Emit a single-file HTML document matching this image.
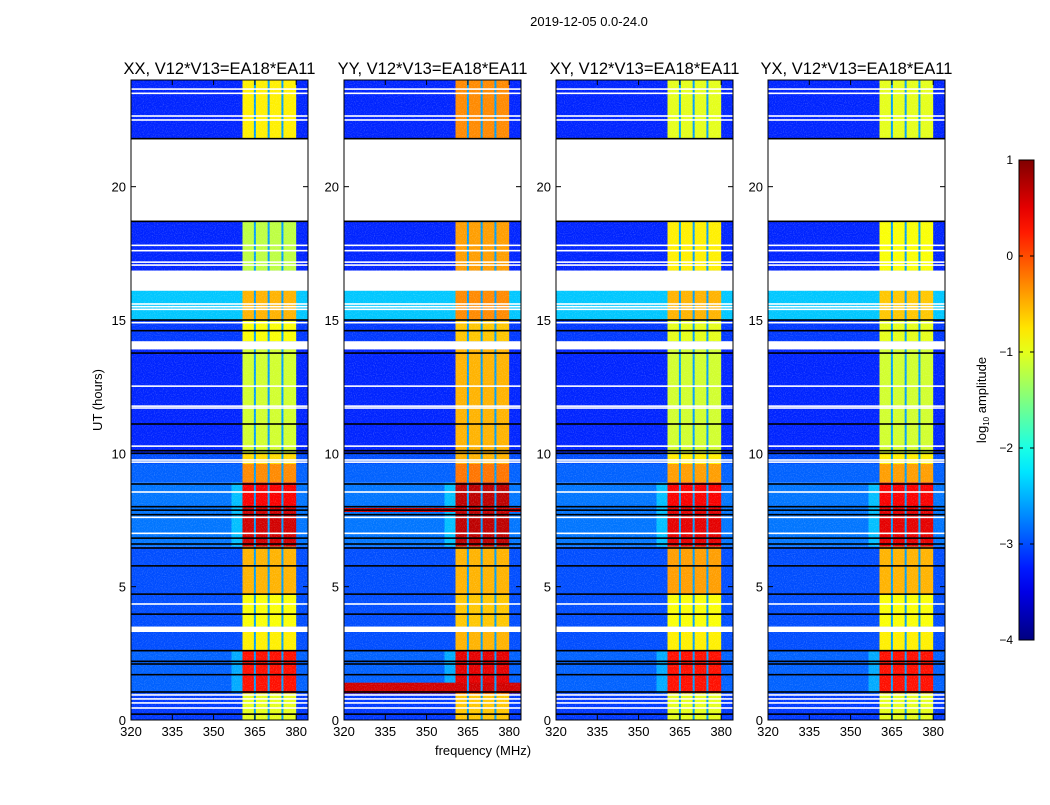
<!DOCTYPE html>
<html><head><meta charset="utf-8">
<style>
body{margin:0;background:#fff;}
svg text{font-family:"Liberation Sans",sans-serif;fill:#000;}
</style></head>
<body>
<svg id="fig" width="1050" height="800" viewBox="0 0 1050 800" xmlns="http://www.w3.org/2000/svg">
<defs>
<filter id="noise" x="0" y="0" width="100%" height="100%">
<feTurbulence type="fractalNoise" baseFrequency="0.9" numOctaves="1" seed="3"/>
<feColorMatrix type="matrix" values="0 0 0 0 1  0 0 0 0 1  0 0 0 0 1  0 0 0 1.6 -0.75"/>
</filter>
<linearGradient id="cbgrad" x1="0" y1="1" x2="0" y2="0"></linearGradient>
</defs>
<text x="589" y="26" font-size="13" text-anchor="middle">2019-12-05 0.0-24.0</text>
<g id="panels"></g>
<text x="483" y="755" font-size="13" text-anchor="middle">frequency (MHz)</text>
<text transform="translate(102,400) rotate(-90)" font-size="13" text-anchor="middle">UT (hours)</text>
<g id="colorbar"></g>
<text transform="translate(986,400) rotate(-90)" font-size="13" text-anchor="middle">log<tspan font-size="8" dy="3">10</tspan><tspan dy="-3"> amplitude</tspan></text>
</svg>
<script>
// ---- data ----
const panelTitles = ["XX, V12*V13=EA18*EA11","YY, V12*V13=EA18*EA11","XY, V12*V13=EA18*EA11","YX, V12*V13=EA18*EA11"];
const segStart = [21.8, 16.85, 15.0, 14.2, 10.0, 9.6, 8.9, 8.0, 6.5, 4.7, 3.5, 2.6, 1.0, 0.0];
const segEnd   = [24.0, 18.7, 16.1, 15.0, 13.9, 10.0, 9.6, 8.9, 8.0, 6.5, 4.7, 3.3, 2.6, 1.0];
const segBg    = [-3.2, -3.2, -2.4, -3.1, -3.2, -3.0, -2.9, -2.8, -2.8, -3.0, -3.0, -3.0, -2.9, -3.1];
const bandXX = [-0.8, -1.2, -0.5, -0.9, -1.1, -0.7, -0.3, 0.4, 0.6, -0.5, -0.9, -0.8, 0.3, -1.0];
const bandYY = [-0.3, -0.4, -0.3, -0.6, -0.5, -0.5, -0.2, 0.7, 0.7, -0.5, -0.6, -0.5, 0.5, -0.6];
const bandXY = [-1.0, -0.8, -0.5, -1.0, -1.1, -0.8, -0.4, 0.4, 0.5, -0.4, -0.9, -0.8, 0.3, -1.0];
const bandYX = [-1.0, -0.9, -0.6, -1.0, -1.1, -0.8, -0.4, 0.4, 0.5, -0.5, -0.9, -0.8, 0.3, -1.0];
const bandLevels = [bandXX, bandYY, bandXY, bandYX];
const bandStartMHz = 360.5, bandEndMHz = 380.0;
const bandSeparatorsMHz = [365, 370, 375];
const whiteLines = [23.66, 23.5, 22.65, 22.5, 17.8, 17.6, 17.17, 17.06, 15.6, 15.5, 15.4, 14.9, 12.52, 11.77, 11.7, 10.27, 9.75, 9.67, 8.55, 7.6, 7.0, 4.35, 0.94, 0.79, 0.64, 0.45];
const blackLines = [21.8, 18.7, 15.0, 14.6, 13.76, 11.1, 10.1, 10.0, 8.85, 8.0, 7.87, 7.7, 6.82, 6.6, 6.45, 5.78, 4.72, 3.97, 2.6, 2.2, 2.1, 1.7, 1.05, 0.22];
const gapStart = [18.7, 16.1, 13.9, 3.3];
const gapEnd = [21.8, 16.85, 14.2, 3.5];
const yyRedRowsStart = [7.8, 1.0];
const yyRedRowsEnd = [7.95, 1.4];
const xTicks = [320, 335, 350, 365, 380];
const yTicks = [0, 5, 10, 15, 20];
const cbTicks = [1, 0, -1, -2, -3, -4];

// ---- layout ----
const NS = "http://www.w3.org/2000/svg";
const panelLeft = [131, 344, 556, 768];
const PW = 177, PT = 80, PB = 720;
const fMin = 320, fMax = 320 + PW / 2.753;
const hMin = 0, hMax = 24;
function xs(f, i){ return panelLeft[i] + (f - fMin) / (fMax - fMin) * PW; }
function ys(h){ return PB - (h - hMin) / (hMax - hMin) * (PB - PT); }
function jet(v){
  let t = Math.max(0, Math.min(1, (v + 4) / 5));
  const r = Math.max(0, Math.min(1, 1.5 - Math.abs(4*t - 3)));
  const g = Math.max(0, Math.min(1, 1.5 - Math.abs(4*t - 2)));
  const b = Math.max(0, Math.min(1, 1.5 - Math.abs(4*t - 1)));
  return `rgb(${Math.round(r*255)},${Math.round(g*255)},${Math.round(b*255)})`;
}
function mk(tag, attrs, parent){
  const e = document.createElementNS(NS, tag);
  for (const k in attrs) e.setAttribute(k, attrs[k]);
  parent.appendChild(e); return e;
}
const panels = document.getElementById("panels");
for (let i = 0; i < 4; i++){
  const g = mk("g", {}, panels);
  
  
  const L = panelLeft[i];
  const heat = mk("g", {}, g);
  
  
  for (let s = 0; s < segStart.length; s++){
    const y0 = ys(segEnd[s]), y1 = ys(segStart[s]);
    const r1 = mk("rect", {x: L, y: y0, width: PW, height: y1 - y0, fill: jet(segBg[s])}, heat);
    
    
    const bl = bandLevels[i][s];
    if (bl > 0){
      const gx = xs(bandStartMHz - 4, i);
      const r0 = mk("rect", {x: gx, y: y0, width: xs(bandStartMHz, i) - gx, height: y1 - y0, fill: jet(segBg[s] + 0.6), opacity: 0.6}, heat);
      
      
    }
    const bx0 = xs(bandStartMHz, i), bx1 = xs(bandEndMHz, i);
    const r2 = mk("rect", {x: bx0, y: y0, width: bx1 - bx0, height: y1 - y0, fill: jet(bl)}, heat);
    
    
  }
  if (i === 1){
    for (let k = 0; k < yyRedRowsStart.length; k++){
      const y0 = ys(yyRedRowsEnd[k]), y1 = ys(yyRedRowsStart[k]);
      const r = mk("rect", {x: L, y: y0, width: PW, height: y1 - y0, fill: jet(0.6)}, heat);
      
      
    }
  }
  for (const f of bandSeparatorsMHz){
    const r = mk("rect", {x: xs(f, i) - 1, y: PT, width: 2, height: PB - PT, fill: jet(-2.6)}, heat);
    
    
  }
  mk("rect", {x: L, y: PT, width: PW, height: PB - PT, filter: "url(#noise)", opacity: 0.35}, heat);
  for (let k = 0; k < gapStart.length; k++){
    const r = mk("rect", {x: L, y: ys(gapEnd[k]), width: PW, height: ys(gapStart[k]) - ys(gapEnd[k]), fill: "#fff"}, heat);
    
    
  }
  for (const h of whiteLines){
    mk("rect", {x: L, y: ys(h) - 0.8, width: PW, height: 1.6, fill: "#fff"}, heat);
  }
  for (const h of blackLines){
    mk("rect", {x: L, y: ys(h) - 0.8, width: PW, height: 1.6, fill: "#000"}, heat);
  }
  const fr = mk("rect", {x: L, y: PT, width: PW, height: PB - PT, fill: "none", stroke: "#000", "stroke-width": 1}, g);
  
  
  const t = mk("text", {x: L + PW/2, y: 74, "font-size": 16.5, "text-anchor": "middle"}, g);
  
  
  t.textContent = panelTitles[i];
  for (const f of xTicks){
    const x = xs(f, i);
    mk("line", {x1: x, x2: x, y1: PB, y2: PB - 5, stroke: "#000"}, g);
    mk("line", {x1: x, x2: x, y1: PT, y2: PT + 5, stroke: "#000"}, g);
    const lt = mk("text", {x: x, y: PB + 16, "font-size": 13, "text-anchor": "middle"}, g);
    
    
    lt.textContent = f;
  }
  for (const h of yTicks){
    const y = ys(h);
    mk("line", {x1: L, x2: L + 5, y1: y, y2: y, stroke: "#000"}, g);
    mk("line", {x1: L + PW, x2: L + PW - 5, y1: y, y2: y, stroke: "#000"}, g);
    const lt = mk("text", {x: L - 5, y: y + 5, "font-size": 13, "text-anchor": "end"}, g);
    
    
    lt.textContent = h;
  }
}
const grad = document.getElementById("cbgrad");
for (let k = 0; k <= 20; k++){
  const v = -4 + 5 * k / 20;
  mk("stop", {offset: (k/20), "stop-color": jet(v)}, grad);
}
const cb = document.getElementById("colorbar");
const cbTop = 160, cbBot = 640, cbX = 1019, cbW = 15;
function cy(v){ return cbBot - (v + 4) / 5 * (cbBot - cbTop); }
const cbr = mk("rect", {x: cbX, y: cbTop, width: cbW, height: cbBot - cbTop, fill: "url(#cbgrad)", stroke: "#000"}, cb);


for (const v of cbTicks){
  const y = cy(v);
  mk("line", {x1: cbX, x2: cbX + 4, y1: y, y2: y, stroke: "#000"}, cb);
  mk("line", {x1: cbX + cbW, x2: cbX + cbW - 4, y1: y, y2: y, stroke: "#000"}, cb);
  const lt = mk("text", {x: 1013, y: y + 4, "font-size": 12, "text-anchor": "end"}, cb);
  
  
  lt.textContent = v < 0 ? "\u2212" + (-v) : String(v);
}
</script>
</body></html>
